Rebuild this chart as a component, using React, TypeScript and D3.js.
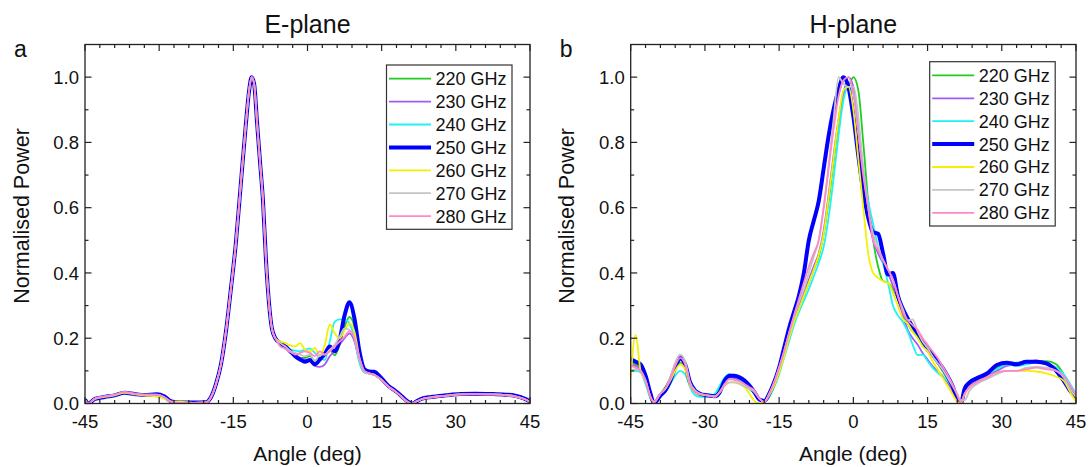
import * as d3 from "d3";
import React, { useEffect, useRef } from "react";

const freqLabels = ["220 GHz", "230 GHz", "240 GHz", "250 GHz", "260 GHz", "270 GHz", "280 GHz"];
const lineColors = ["#1fcc1f", "#a05cf2", "#1ff2f2", "#0000ff", "#f2f200", "#c4c4c4", "#ff88c8"];
const lineWidths = [1.8, 1.8, 1.8, 4, 1.8, 1.8, 1.8];

const xTicks = [-45, -30, -15, 0, 15, 30, 45];
const yTicks = [0, 0.2, 0.4, 0.6, 0.8, 1.0];

// ---- E-plane (panel a) ----
const eAngles = [
  -45, -44.3, -43, -41, -39, -37, -35, -33, -30.5, -29,
  -27.5, -26, -23, -20.5, -19.5, -18.5, -17.5, -16.5, -15.5, -14.5,
  -13.5, -12.5, -11.8, -11.3, -10.8, -10.2, -9.6, -9, -8.4, -7.8,
  -7.2, -6.5, -5.5, -4.5, -3.5, -2.5, -1.5, -0.5, 0.5, 1.5,
  2.5, 3.5, 4.5, 5.5, 6.5, 7.5, 8.5, 9.5, 10.5, 11.5,
  12.5, 13.5, 14.5, 15.5, 16.5, 17.5, 18.5, 19.5, 20.5, 21.2,
  22, 23, 25, 28, 31, 34, 37, 40, 42, 44, 45,
];

// -45 .. -6.5 (side lobes + main lobe, nearly identical for all)
const eLeft250 = [
  0.012, 0.0, 0.014, 0.02, 0.025, 0.033, 0.029, 0.026, 0.028, 0.022,
  0.006, 0.003, 0.003, 0.004, 0.02, 0.06, 0.12, 0.22, 0.35, 0.49,
  0.67, 0.85, 0.96, 1.0, 0.98, 0.86, 0.74, 0.62, 0.44, 0.31, 0.23, 0.2,
];
const eLeftOther = [
  0.01, 0.0, 0.015, 0.022, 0.027, 0.035, 0.03, 0.027, 0.027, 0.02,
  0.005, 0.002, 0.002, 0.003, 0.02, 0.06, 0.12, 0.22, 0.35, 0.49,
  0.67, 0.85, 0.96, 1.0, 0.98, 0.86, 0.74, 0.62, 0.44, 0.31, 0.23, 0.2,
];
const eLeftLow = [
  0.01, 0.0, 0.014, 0.02, 0.025, 0.033, 0.028, 0.024, 0.022, 0.016,
  0.006, 0.006, 0.002, 0.003, 0.02, 0.06, 0.12, 0.22, 0.35, 0.49,
  0.67, 0.85, 0.96, 1.0, 0.98, 0.86, 0.74, 0.62, 0.44, 0.31, 0.23, 0.2,
];

// -5.5 .. 11.5 (where the frequencies differ)
const eMid220 = [0.185, 0.172, 0.16, 0.15, 0.14, 0.14, 0.145, 0.13, 0.145, 0.155, 0.165, 0.148, 0.18, 0.235, 0.265, 0.235, 0.15, 0.1];
const eMid230 = [0.18, 0.17, 0.16, 0.15, 0.14, 0.135, 0.13, 0.115, 0.112, 0.12, 0.145, 0.16, 0.18, 0.2, 0.215, 0.19, 0.13, 0.095];
const eMid240 = [0.185, 0.175, 0.165, 0.162, 0.16, 0.165, 0.168, 0.155, 0.14, 0.133, 0.19, 0.25, 0.258, 0.258, 0.245, 0.2, 0.125, 0.095];
const eMid250 = [0.185, 0.175, 0.16, 0.145, 0.135, 0.128, 0.133, 0.12, 0.135, 0.152, 0.175, 0.16, 0.195, 0.27, 0.31, 0.26, 0.16, 0.105];
const eMid260 = [0.19, 0.185, 0.178, 0.175, 0.185, 0.165, 0.16, 0.17, 0.145, 0.18, 0.242, 0.215, 0.2, 0.225, 0.245, 0.22, 0.14, 0.098];
const eMid270 = [0.185, 0.175, 0.162, 0.155, 0.15, 0.145, 0.15, 0.13, 0.15, 0.15, 0.165, 0.18, 0.205, 0.23, 0.225, 0.2, 0.135, 0.097];
const eMid280 = [0.175, 0.168, 0.158, 0.15, 0.155, 0.16, 0.155, 0.145, 0.16, 0.15, 0.16, 0.175, 0.19, 0.205, 0.222, 0.2, 0.14, 0.1];

// 12.5 .. 45
const eRight250 = [0.098, 0.097, 0.085, 0.068, 0.052, 0.042, 0.03, 0.016, 0.004, 0.0, 0.006, 0.014, 0.02, 0.025, 0.029, 0.03, 0.029, 0.027, 0.024, 0.014, 0.006];
const eRightOther = [0.092, 0.088, 0.078, 0.065, 0.05, 0.04, 0.028, 0.014, 0.003, 0.0, 0.006, 0.013, 0.019, 0.024, 0.028, 0.029, 0.028, 0.026, 0.022, 0.013, 0.005];

const ePower = [
  [...eLeftOther, ...eMid220, ...eRightOther],
  [...eLeftOther, ...eMid230, ...eRightOther],
  [...eLeftLow, ...eMid240, ...eRightOther],
  [...eLeft250, ...eMid250, ...eRight250],
  [...eLeftLow, ...eMid260, ...eRightOther],
  [...eLeftOther, ...eMid270, ...eRightOther],
  [...eLeftOther, ...eMid280, ...eRightOther],
];

// ---- H-plane (panel b) ----
const hAngles = [
  -45, -44, -43, -42, -41, -40.3, -39, -38, -37, -36,
  -35, -34, -33, -32, -31, -29.5, -28, -27, -26, -25,
  -24, -23, -22, -21, -20, -19, -18, -17, -16, -15,
  -14, -13, -12, -11, -10, -9, -8, -7, -6, -5,
  -4, -3, -2, -1, 0, 1, 2, 3, 4, 5,
  6, 7, 8, 9, 10, 11, 12, 13, 14, 15,
  16, 17, 18, 19, 20, 21, 21.7, 22.5, 23.5, 25,
  27, 29, 31, 33, 35, 37, 39, 41, 42.5, 44, 45,
];

const h220 = [
  0.125, 0.12, 0.11, 0.075, 0.02, 0.0, 0.03, 0.05, 0.075, 0.105,
  0.125, 0.11, 0.055, 0.035, 0.028, 0.025, 0.025, 0.045, 0.075, 0.085,
  0.08, 0.07, 0.06, 0.045, 0.03, 0.01, 0.005, 0.025, 0.055, 0.1,
  0.155, 0.205, 0.25, 0.29, 0.33, 0.37, 0.41, 0.45, 0.52, 0.62,
  0.74, 0.86, 0.95, 0.97, 1.0, 0.96, 0.8, 0.62, 0.5, 0.42,
  0.375, 0.37, 0.35, 0.32, 0.28, 0.245, 0.22, 0.205, 0.185, 0.165,
  0.148, 0.125, 0.1, 0.075, 0.045, 0.015, 0.0, 0.04, 0.06, 0.075,
  0.09, 0.11, 0.12, 0.125, 0.13, 0.13, 0.13, 0.12, 0.09, 0.05, 0.02,
];
const h230 = [
  0.12, 0.115, 0.105, 0.07, 0.02, 0.003, 0.025, 0.045, 0.075, 0.12,
  0.145, 0.125, 0.06, 0.035, 0.028, 0.025, 0.022, 0.04, 0.07, 0.08,
  0.078, 0.072, 0.065, 0.05, 0.035, 0.012, 0.005, 0.03, 0.06, 0.1,
  0.155, 0.21, 0.26, 0.3, 0.34, 0.38, 0.42, 0.46, 0.53, 0.64,
  0.76, 0.87, 0.95, 1.0, 0.97, 0.85, 0.7, 0.57, 0.5, 0.46,
  0.43, 0.4, 0.36, 0.32, 0.27, 0.225, 0.2, 0.18, 0.155, 0.135,
  0.115, 0.1, 0.085, 0.065, 0.04, 0.012, 0.0, 0.035, 0.055, 0.07,
  0.085, 0.1, 0.115, 0.12, 0.125, 0.132, 0.12, 0.11, 0.085, 0.045, 0.02,
];
const h240 = [
  0.1, 0.1, 0.095, 0.06, 0.015, 0.003, 0.02, 0.035, 0.06, 0.085,
  0.1, 0.09, 0.05, 0.025, 0.02, 0.02, 0.03, 0.055, 0.08, 0.09,
  0.085, 0.075, 0.06, 0.045, 0.03, 0.01, 0.005, 0.02, 0.05, 0.09,
  0.14, 0.19, 0.24, 0.28, 0.315, 0.35, 0.39, 0.43, 0.48, 0.57,
  0.69, 0.82, 0.93, 0.97, 0.95, 0.85, 0.72, 0.62, 0.55, 0.48,
  0.43, 0.37, 0.3, 0.27, 0.25, 0.22, 0.18, 0.148, 0.15, 0.13,
  0.11, 0.095, 0.082, 0.07, 0.05, 0.012, 0.0, 0.045, 0.068, 0.08,
  0.095, 0.105, 0.12, 0.115, 0.12, 0.125, 0.12, 0.11, 0.09, 0.055, 0.03,
];
const h250 = [
  0.135, 0.128, 0.12, 0.085, 0.03, 0.0, 0.025, 0.04, 0.07, 0.11,
  0.138, 0.12, 0.065, 0.04, 0.03, 0.025, 0.022, 0.035, 0.07, 0.085,
  0.085, 0.08, 0.07, 0.055, 0.035, 0.012, 0.008, 0.03, 0.065, 0.11,
  0.17, 0.23, 0.28, 0.33, 0.4, 0.5, 0.56, 0.62, 0.72, 0.82,
  0.9, 0.96, 1.0, 0.97, 0.88, 0.76, 0.65, 0.57, 0.525, 0.52,
  0.46, 0.395, 0.4, 0.33, 0.29, 0.26, 0.235, 0.215, 0.19, 0.165,
  0.15, 0.13, 0.11, 0.085, 0.055, 0.015, 0.0, 0.045, 0.065, 0.078,
  0.092, 0.118, 0.125, 0.12, 0.128, 0.128, 0.123, 0.1, 0.07, 0.035, 0.02,
];
const h260 = [
  0.08, 0.21, 0.1, 0.07, 0.02, 0.003, 0.03, 0.045, 0.07, 0.1,
  0.12, 0.105, 0.055, 0.035, 0.028, 0.025, 0.022, 0.035, 0.055, 0.065,
  0.065, 0.06, 0.05, 0.03, 0.008, 0.0, 0.005, 0.025, 0.055, 0.095,
  0.145, 0.2, 0.25, 0.29, 0.33, 0.37, 0.41, 0.455, 0.52, 0.63,
  0.75, 0.87, 0.96, 0.97, 0.9, 0.75, 0.6, 0.46, 0.4, 0.385,
  0.375, 0.37, 0.34, 0.3, 0.26, 0.245, 0.22, 0.2, 0.175, 0.16,
  0.13, 0.105, 0.08, 0.055, 0.03, 0.005, 0.0, 0.03, 0.05, 0.065,
  0.08, 0.095, 0.1, 0.1, 0.1, 0.098, 0.092, 0.082, 0.07, 0.03, 0.005,
];
const h270 = [
  0.1, 0.105, 0.1, 0.07, 0.02, 0.005, 0.03, 0.045, 0.08, 0.125,
  0.15, 0.13, 0.065, 0.04, 0.03, 0.025, 0.022, 0.035, 0.055, 0.065,
  0.065, 0.06, 0.052, 0.045, 0.035, 0.015, 0.005, 0.03, 0.065, 0.11,
  0.16, 0.215, 0.265, 0.31, 0.35, 0.4, 0.45, 0.5, 0.6, 0.73,
  0.87, 1.0, 0.98, 0.97, 0.97, 0.88, 0.72, 0.6, 0.52, 0.48,
  0.44, 0.41, 0.38, 0.33, 0.29, 0.255, 0.258, 0.22, 0.19, 0.17,
  0.145, 0.125, 0.105, 0.08, 0.055, 0.03, 0.01, 0.01, 0.04, 0.06,
  0.075, 0.09, 0.1, 0.1, 0.11, 0.112, 0.11, 0.1, 0.08, 0.04, 0.02,
];
const h280 = [
  0.115, 0.11, 0.1, 0.07, 0.02, 0.005, 0.03, 0.045, 0.075, 0.115,
  0.14, 0.12, 0.06, 0.035, 0.03, 0.025, 0.02, 0.035, 0.06, 0.075,
  0.072, 0.068, 0.06, 0.05, 0.04, 0.015, 0.005, 0.03, 0.065, 0.11,
  0.16, 0.215, 0.27, 0.32, 0.37, 0.42, 0.46, 0.5, 0.6, 0.72,
  0.84, 0.94, 0.99, 1.0, 0.95, 0.83, 0.7, 0.6, 0.5, 0.47,
  0.44, 0.41, 0.38, 0.33, 0.28, 0.255, 0.24, 0.225, 0.2, 0.18,
  0.16, 0.14, 0.115, 0.09, 0.06, 0.025, 0.005, 0.03, 0.05, 0.065,
  0.08, 0.095, 0.1, 0.1, 0.105, 0.11, 0.105, 0.1, 0.085, 0.05, 0.025,
];
const hPower = [h220, h230, h240, h250, h260, h270, h280];

const plotTop = 44.5;
const plotBottom = 403.5;
const font = "'Liberation Sans', Arial, Helvetica, sans-serif";

const panels = [
  { tag: "a", title: "E-plane", x0: 85, x1: 530, legendX: 386.5, legendY: 65, angles: eAngles, data: ePower },
  { tag: "b", title: "H-plane", x0: 630.7, x1: 1076, legendX: 929.7, legendY: 61.7, angles: hAngles, data: hPower },
];

const App = () => {
  const ref = useRef<SVGSVGElement>(null);

  useEffect(() => {
    const svg = d3.select(ref.current);
    svg.selectAll("*").remove();

    panels.forEach((p, pi) => {
      const x = d3.scaleLinear().domain([-45, 45]).range([p.x0, p.x1]);
      const y = d3.scaleLinear().domain([0, 1.1]).range([plotBottom, plotTop]);
      const g = svg.append("g");

      const clipId = "plotclip" + pi;
      svg.append("clipPath").attr("id", clipId)
        .append("rect")
        .attr("x", p.x0).attr("y", plotTop)
        .attr("width", p.x1 - p.x0).attr("height", plotBottom - plotTop);

      // curves
      p.data.forEach((vals, si) => {
        const line = d3.line<number>()
          .x((d, i) => x(p.angles[i]))
          .y((d) => y(d))
          .curve(d3.curveMonotoneX);
        g.append("path")
          .attr("d", line(vals))
          .attr("fill", "none")
          .attr("stroke", lineColors[si])
          .attr("stroke-width", lineWidths[si])
          .attr("stroke-linejoin", "round")
          .attr("clip-path", `url(#${clipId})`);
      });

      // frame
      g.append("rect")
        .attr("x", p.x0).attr("y", plotTop)
        .attr("width", p.x1 - p.x0).attr("height", plotBottom - plotTop)
        .attr("fill", "none").attr("stroke", "#222").attr("stroke-width", 1.3);

      // x ticks (major every 15, minor every 3), inward on bottom and top
      d3.range(-45, 46, 3).forEach((t) => {
        const len = (t + 45) % 15 === 0 ? 6.5 : 3.5;
        const xx = x(t);
        g.append("line").attr("x1", xx).attr("x2", xx).attr("y1", plotBottom).attr("y2", plotBottom - len)
          .attr("stroke", "#222").attr("stroke-width", 1.2);
        g.append("line").attr("x1", xx).attr("x2", xx).attr("y1", plotTop).attr("y2", plotTop + len)
          .attr("stroke", "#222").attr("stroke-width", 1.2);
      });
      // y ticks (major every 0.2, minor every 0.1)
      d3.range(0, 11).forEach((k) => {
        const len = k % 2 === 0 ? 6.5 : 3.5;
        const yy = y(k / 10);
        g.append("line").attr("x1", p.x0).attr("x2", p.x0 + len).attr("y1", yy).attr("y2", yy)
          .attr("stroke", "#222").attr("stroke-width", 1.2);
        g.append("line").attr("x1", p.x1).attr("x2", p.x1 - len).attr("y1", yy).attr("y2", yy)
          .attr("stroke", "#222").attr("stroke-width", 1.2);
      });

      // tick labels
      g.selectAll(".xlab")
        .data(xTicks)
        .enter()
        .append("text")
        .attr("x", (d) => x(d))
        .attr("y", 428)
        .attr("text-anchor", "middle")
        .style("font-family", font)
        .style("font-size", "18.5px")
        .attr("fill", "#111")
        .text((d) => String(d));

      g.selectAll(".ylab")
        .data(yTicks)
        .enter()
        .append("text")
        .attr("x", p.x0 - 6)
        .attr("y", (d) => y(d))
        .attr("dy", "0.36em")
        .attr("text-anchor", "end")
        .style("font-family", font)
        .style("font-size", "18.5px")
        .attr("fill", "#111")
        .text((d) => d.toFixed(1));

      // axis titles
      const cx = (p.x0 + p.x1) / 2;
      g.append("text")
        .attr("x", cx).attr("y", 461)
        .attr("text-anchor", "middle")
        .style("font-family", font).style("font-size", "21px")
        .attr("fill", "#111")
        .text("Angle (deg)");
      g.append("text")
        .attr("transform", `translate(${p.x0 - 56.5},216) rotate(-90)`)
        .attr("text-anchor", "middle")
        .style("font-family", font).style("font-size", "21.5px")
        .attr("fill", "#111")
        .text("Normalised Power");

      // panel title and letter
      g.append("text")
        .attr("x", cx).attr("y", 33)
        .attr("text-anchor", "middle")
        .style("font-family", font).style("font-size", "25px")
        .attr("fill", "#111")
        .text(p.title);
      g.append("text")
        .attr("x", p.x0 - 71).attr("y", 57)
        .style("font-family", font).style("font-size", "23px")
        .attr("fill", "#111")
        .text(p.tag);

      // legend
      const legend = g.append("g").attr("transform", `translate(${p.legendX},${p.legendY})`);
      legend.append("rect")
        .attr("width", 125.5).attr("height", 164.3)
        .attr("fill", "white").attr("stroke", "#333").attr("stroke-width", 1.2);
      freqLabels.forEach((lab, i) => {
        const ly = 13.7 + i * 22.9;
        legend.append("line")
          .attr("x1", 2.5).attr("x2", 44.5).attr("y1", ly).attr("y2", ly)
          .attr("stroke", lineColors[i]).attr("stroke-width", lineWidths[i]);
        legend.append("text")
          .attr("x", 49).attr("y", ly).attr("dy", "0.36em")
          .style("font-family", font).style("font-size", "18px")
          .attr("fill", "#111")
          .text(lab);
      });
    });
  }, []);

  return (
    <svg
      ref={ref}
      width={1091}
      height={467}
      style={{ position: "absolute", left: 0, top: 0, background: "white" }}
    />
  );
};

export default App;
